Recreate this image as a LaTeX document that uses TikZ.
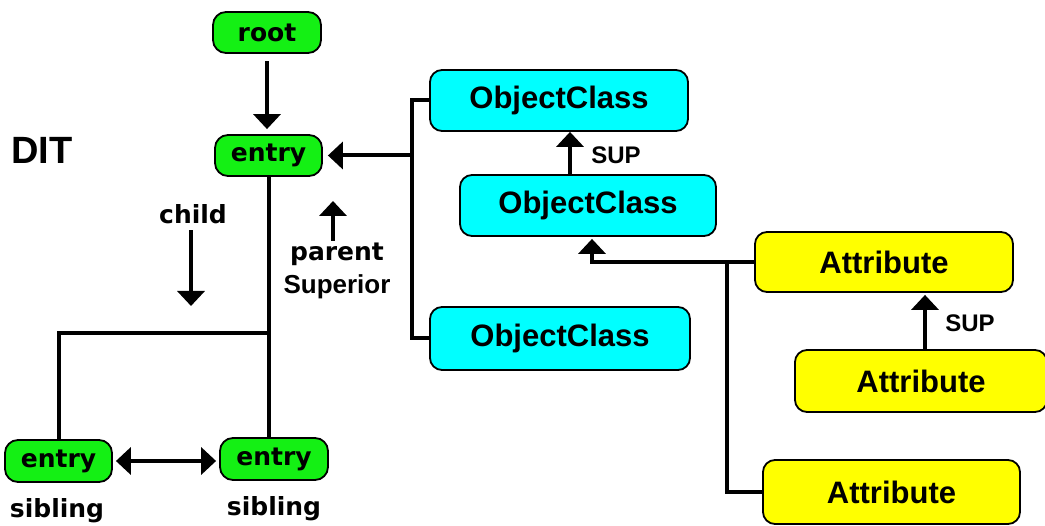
\documentclass[tikz,border=0pt]{standalone}
\usepackage{fontspec}
\setmainfont{Liberation Sans}
\newfontfamily\pixfont{DejaVu Sans}
\usetikzlibrary{arrows.meta}
\definecolor{gr}{RGB}{20,240,20}
\definecolor{cy}{RGB}{0,255,255}
\definecolor{ye}{RGB}{255,255,0}
\tikzset{
  box/.style={draw=black, line width=1.8pt, rounded corners=12pt, inner sep=0pt, font=\fontsize{31}{36}\selectfont\bfseries},
  gbox/.style={box, fill=gr, rounded corners=13pt, font=\fontsize{25}{30}\selectfont\pixfont\bfseries},
  cbox/.style={box, fill=cy},
  ybox/.style={box, fill=ye},
  wire/.style={line width=4pt, line cap=rect},
  arr/.style={wire, -{Triangle[width=27pt,length=15pt]}},
  darr/.style={wire, {Triangle[width=27pt,length=15pt]}-{Triangle[width=27pt,length=15pt]}},
  lbl/.style={inner sep=0pt, font=\fontsize{25}{30}\selectfont\pixfont\bfseries},
  slbl/.style={inner sep=0pt, font=\fontsize{24}{28}\selectfont\bfseries}
}
\begin{document}
\begin{tikzpicture}[x=1pt,y=-1pt]
\useasboundingbox (0,0) rectangle (1045,526);
\clip (0,0) rectangle (1045,526);
% green nodes
\node[gbox, minimum width=108pt, minimum height=41pt] (root) at (267,32.5) {root};
\node[gbox, minimum width=107pt, minimum height=41pt] (entry) at (268.5,155.5) {entry};
\node[gbox, minimum width=107pt, minimum height=42pt] (entryL) at (58.5,461) {entry};
\node[gbox, minimum width=108pt, minimum height=42pt] (entryR) at (274,459) {entry};
% cyan nodes
\node[cbox, minimum width=258pt, minimum height=61pt] (oc1) at (559,100.5) {ObjectClass};
\node[cbox, minimum width=256pt, minimum height=61pt] (oc2) at (588,205.5) {ObjectClass};
\node[cbox, minimum width=260pt, minimum height=63pt] (oc3) at (560,338.5) {ObjectClass};
% yellow nodes
\node[ybox, minimum width=258pt, minimum height=60pt] (at1) at (884,262) {Attribute};
\node[ybox, minimum width=252pt, minimum height=62pt] (at2) at (921,381) {Attribute};
\node[ybox, minimum width=257pt, minimum height=64pt] (at3) at (891.5,492) {Attribute};
% labels
\node[inner sep=0pt, font=\fontsize{38}{44}\selectfont\bfseries] (dit) at (42,150) {DIT};
\node[lbl] (child) at (193,214) {child};
\node[lbl] (parent) at (337,254) {parent};
\node[inner sep=0pt, font=\fontsize{26}{30}\selectfont\bfseries] (sup) at (337,287) {Superior};
\node[lbl, anchor=north] (sibL) at (57,498.5) {sibling};
\node[lbl, anchor=north] (sibR) at (274,496) {sibling};
\node[slbl] (sup1) at (616,155) {SUP};
\node[slbl] (sup2) at (970,323) {SUP};
% coordinates
\coordinate (bus) at (412,155.5);
\coordinate (br) at (268.5,333);
\coordinate (ca) at (191,232);
\coordinate (cb) at (191,306);
\coordinate (pa) at (333,239);
\coordinate (pb) at (333,201);
% connectors
\draw[arr, shorten <=9pt, shorten >=5pt] (root.south) -- (root.south |- entry.north);
\draw[wire] (oc1.west) -| (bus) |- (oc3.west);
\draw[arr, shorten >=5pt] (bus) -- (entry.east);
\draw[arr] ([xshift=-18pt]oc2.north) -- ([xshift=-18pt]oc2.north |- oc1.south);
\draw[arr, shorten >=2pt] (at1.west) -| ([xshift=4pt]oc2.south);
\draw[wire] ([xshift=-27pt]at1.west) |- (at3.west);
\draw[arr, shorten >=2pt] ([xshift=4pt]at2.north) -- ([xshift=4pt]at2.north |- at1.south);
\draw[wire] (entry.south) -- (entry.south |- entryR.north);
\draw[wire] (br) -| (entryL.north);
\draw[darr, shorten <=3pt, shorten >=3pt] (entryL.east) -- (entryL.east -| entryR.west);
\draw[arr] (ca) -- (cb);
\draw[arr] (pa) -- (pb);
\end{tikzpicture}
\end{document}
